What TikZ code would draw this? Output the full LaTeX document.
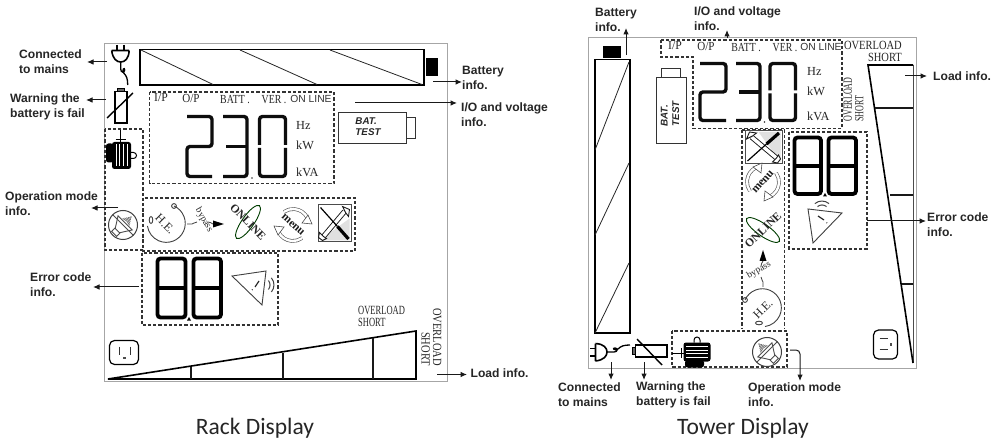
\documentclass[tikz,border=0pt]{standalone}
\usepackage{fontspec}
\setmainfont{Liberation Sans}
\newfontfamily\lserif{Liberation Serif}
\newfontfamily\capfont{Carlito}
\usetikzlibrary{arrows.meta,shapes.geometric,calc}
\tikzset{
  panel/.style={draw=black!35,line width=.9pt},
  dbox/.style={draw=black!80,line width=1.1pt,dash pattern=on 3.2pt off 2pt},
  arr/.style={-{Latex[length=6.5pt,width=5.5pt]},line width=1pt,draw=black!90},
  lab/.style={font=\fontsize{12.1}{15}\selectfont\bfseries,align=left,anchor=west,inner sep=0pt,text=black!85},
  captext/.style={font=\capfont\fontsize{23.5}{25}\selectfont,inner sep=0pt,text=black!85},
  lcd/.style={font=\lserif\fontsize{12.3}{12}\selectfont,inner sep=0pt,text=black!85},
  lcdsf/.style={font=\fontsize{10.3}{10}\selectfont,inner sep=0pt,text=black!80},
  ovfont/.style={font=\lserif\fontsize{12.5}{11.5}\selectfont},
  bttext/.style={font=\bfseries\itshape\fontsize{9.8}{11.5}\selectfont,align=left,inner sep=0pt,text=black!85},
  batbox/.style={draw=black!80,line width=.8pt},
  batt/.style={draw=black,line width=1.5pt},
  hatch/.style={draw=black!85,line width=.8pt},
  seg/.style={draw=black!95,line width=3.4pt,rounded corners=3pt},
  segb/.style={draw=black,line width=3.8pt,rounded corners=3pt},
  wedgeline/.style={draw=black,line width=1.6pt,line join=miter},
  tickline/.style={draw=black!90,line width=1.3pt},
}
% seven-segment figures: x0 y0 x1 y1
\newcommand{\digA}[4]{\draw[seg] (#1,#2)--(#3,#2)--(#3,{(#2+#4)/2})--(#1,{(#2+#4)/2})--(#1,#4)--(#3,#4);}
\newcommand{\digB}[4]{\draw[seg] (#1,#2)--(#3,#2)--(#3,#4)--(#1,#4); \draw[seg] ({#1+3},{(#2+#4)/2})--(#3,{(#2+#4)/2});}
\newcommand{\digC}[4]{\draw[seg] (#1,{(#2+#4)/2-1.5})--(#1,#2)--(#3,#2)--(#3,{(#2+#4)/2-1.5}); \draw[seg] (#1,{(#2+#4)/2+1.5})--(#1,#4)--(#3,#4)--(#3,{(#2+#4)/2+1.5});}
\newcommand{\digD}[4]{\draw[segb] (#1,#2) rectangle (#3,#4); \draw[segb] (#1,{(#2+#4)/2})--(#3,{(#2+#4)/2});}
\newcommand{\plugicon}[3]{\begin{scope}[shift={(#1,#2)},rotate=#3]
  \draw[black,line width=1.6pt] (-4,-17)--(-4,-11.5) (3.5,-17)--(3.5,-11.5);
  \draw[black,line width=1.6pt] (-9,-11.5)--(8.5,-11.5) (-9,-11.5) .. controls (-8,-3) and (-4,0) .. (0,0) .. controls (4,0) and (8,-3) .. (8.5,-11.5);
  \draw[black,line width=1.3pt] (0,0)--(0,7) .. controls (0,11) and (4,11) .. (4,8) .. controls (4,5) and (1,7) .. (3,11) .. controls (6,14) and (7,17) .. (7,23);
\end{scope}}
\newcommand{\batfail}[3]{\begin{scope}[shift={(#1,#2)},rotate=#3]
  \draw[black,line width=1.3pt] (-6,-15.5) rectangle (6,16);
  \draw[black,fill=black!60,line width=.8pt] (-3.5,-18.5) rectangle (3.5,-15.5);
  \draw[black,line width=1.4pt] (-14,11)--(12,-14);
\end{scope}}
\newcommand{\motoricon}[3]{\begin{scope}[shift={(#1,#2)},rotate=#3]
  \draw[black,line width=1pt] (-1.5,-25)--(-1.5,-13) (-6,-15.5)--(4,-15.5);
  \fill[black,rounded corners=2.5pt] (-9.5,-13.5) rectangle (9.5,13.5);
  \fill[black,rounded corners=2.5pt] (-15.5,-12) rectangle (-8,7);
  \draw[white,line width=.9pt] (-5.5,-11)--(-5.5,11) (-1.8,-11)--(-1.8,11) (1.9,-11)--(1.9,11) (5.6,-11)--(5.6,11);
  \draw[black,line width=1pt] (9.5,-3)--(12,-3) arc[start angle=90,end angle=-90,radius=3pt]--(9.5,3);
\end{scope}}
\newcommand{\speakicon}[3]{\begin{scope}[shift={(#1,#2)},rotate=#3]
  \draw[black!75,line width=1pt] (0,0) circle[radius=14.5pt];
  \draw[black!70,line width=.8pt] (-10.5,-10.5)--(10.5,10.5);
  \begin{scope}[rotate=45]
    \draw[black!70,line width=.9pt] (-12.5,-3.5) rectangle (-8,3.5) (-8,-3)--(3,-10)--(3,10)--(-8,3);
    \foreach \r in {1,2.5,4,5.5,7}{\draw[black!55,line width=.8pt] ({\r+3.5},{-.7*(8-\r)})--({\r+4.5},0)--({\r+3.5},{.7*(8-\r)});}
  \end{scope}
\end{scope}}
\newcommand{\heicon}[3]{\begin{scope}[shift={(#1,#2)},rotate=#3,transform shape]
  \draw[black!75,line width=.9pt] (8,-18) arc[start angle=66,end angle=-172,radius=19pt];
  \draw[black!75,line width=.9pt] (8,-18) circle[radius=2.4pt];
  \draw[black!75,line width=.9pt] (-15,-4) ellipse[x radius=1.8pt,y radius=3.5pt];
  \node[lcd,font=\lserif\fontsize{12}{12}\selectfont,rotate=-45] (#1he) at (-1,0) {H.E.};
  \draw[black!75,line width=.8pt] (21,0)--(26,0) .. controls (28,0) and (28,-2) .. (31,-2);
  \node[lcd,font=\lserif\fontsize{9.5}{9}\selectfont,rotate=-60] (#1by) at (38,-4) {bypass};
  \draw[black!75,line width=.8pt] (42,-2) .. controls (44,-3) and (45,0) .. (47,0);
  \fill[black] (47,-3.5)--(58,0)--(47,3.5)--cycle;
\end{scope}}
\newcommand{\onlineicon}[3]{\begin{scope}[shift={(#1,#2)},rotate=#3,transform shape]
  \draw[black!60!green!60!black,line width=.9pt,rotate=55] (0,0) ellipse[x radius=20pt,y radius=6pt];
  \node[lcd,text=black!85,rotate=-46,font=\lserif\bfseries\fontsize{11.5}{11}\selectfont] (#1on) at (0,0) {ON\kern.5pt LINE};
\end{scope}}
\newcommand{\menuicon}[3]{\begin{scope}[shift={(#1,#2)},rotate=#3,transform shape]
  \draw[draw=black!70,double=white,double distance=2.4pt,line width=.6pt] (14.5,-7) arc[start angle=26,end angle=125,radius=16pt];
  \draw[draw=black!70,double=white,double distance=2.4pt,line width=.6pt] (-14.5,7) arc[start angle=206,end angle=305,radius=16pt];
  \draw[fill=white,draw=black!70,line width=.6pt] (15,-10)--(19,-1)--(9,-2)--cycle (-15,10)--(-19,1)--(-9,2)--cycle;
  \node[lcd,text=black!90,rotate=-42,font=\lserif\bfseries\fontsize{11.5}{10}\selectfont] (#1me) at (0,0) {menu};
\end{scope}}
\newcommand{\toolicon}[3]{\begin{scope}[shift={(#1,#2)},rotate=#3]
  \fill[black!12] (-15,17)--(15,17)--(15,-5)--cycle;
  \draw[black!70,line width=1pt] (-16.5,-18.5) rectangle (16.5,18.5);
  \draw[black!90,line width=5.2pt] (-11,13)--(10,-12);
  \draw[white,line width=3.4pt] (-11,13)--(10,-12);
  \fill[white,draw=black!90,line width=.9pt] (8,-17)--(15,-14)--(14,-7)--(11,-11)--cycle (-15,9)--(-11,13)--(-8,15)--(-12,17)--(-16,14)--cycle;
  \draw[black,line width=1.2pt] (-14,-16)--(3,3);
  \draw[black,line width=3.2pt] (3,3)--(14,15.5);
\end{scope}}
\newcommand{\alarmicon}[3]{\begin{scope}[shift={(#1,#2)},rotate=#3]
  \draw[black!75,line width=.9pt,line join=miter] (-21,-8)--(13,-13)--(9,21)--cycle;
  \draw[black!85,line width=1.1pt] (-1,6)--(-.5,5.5);
  \draw[black!85,line width=1.2pt] (2,3)--(6,-3);
  \draw[black!75,line width=1pt] (15.4,5.5) arc[start angle=-40,end angle=40,radius=7pt];
  \draw[black!75,line width=1pt] (18.4,8) arc[start angle=-40,end angle=40,radius=11pt];
\end{scope}}
\newcommand{\outleticon}[3]{\begin{scope}[shift={(#1,#2)},rotate=#3]
  \draw[black,line width=1.2pt,rounded corners=5pt] (-14.5,-12) rectangle (14.5,12);
  \draw[black!80,line width=.9pt] (-5,-6)--(-5,2) (6,-6)--(6,2);
  \fill[black!70] (-1,4) rectangle (1.5,6.5);
\end{scope}}
\newcommand{\cs}[2]{\scalebox{#1}[1]{#2}}
\begin{document}
\begin{tikzpicture}[x=1pt,y=-1pt]
\useasboundingbox (0,0) rectangle (1003,443);
\fill[white] (0,0) rectangle (1003,443);
% ---------- RACK ----------
\draw[panel] (104.5,43) rectangle (447.5,381.5);
\draw[batt] (140,49.5) rectangle (424,85);
\fill[black] (425.5,58) rectangle (438,76);
\draw[hatch] (141,50)--(213,84.5) (240,50)--(317,84.5) (330,50)--(422,84.5);
\plugicon{120.7}{62}{0}
\batfail{121}{107}{0}
\motoricon{121.5}{155.5}{0}
\speakicon{123}{225}{0}
\draw[dbox] (149.5,92) rectangle (334,183.5);
\node[lcd] (ip) at (161,98) {\cs{.95}{I/P}};
\node[lcd] (op) at (191,98) {\cs{.9}{O/P}};
\node[lcd] (ba) at (235,100) {\cs{.8}{BATT .}};
\node[lcd] (ve) at (274,100) {\cs{.8}{VER .}};
\node[lcdsf] (ol) at (311,99) {ON LINE};
\digA{187}{116.5}{212}{176.5}
\digB{223}{116.5}{247}{176.5}
\digC{259.5}{116.5}{285.5}{176.5}
\fill[black!80] (252,178) circle[radius=.9pt];
\node[lcd,anchor=west] (hz) at (296,125) {Hz};
\node[lcd,anchor=west] (kw) at (296,145.5) {kW};
\node[lcd,anchor=west] (kv) at (296,172) {kVA};
\draw[batbox] (338,112) rectangle (406.5,143);
\draw[batbox] (406.5,117.5) rectangle (415,138);
\node[bttext] (bt) at (368,126.5) {BAT.\\TEST};
\draw[dbox] (105,129) rectangle (143,250);
\draw[dbox] (143,198) rectangle (355,251);
\heicon{166}{224}{0}
\onlineicon{248}{222}{0}
\menuicon{293}{225}{0}
\toolicon{334.5}{223.5}{0}
\draw[dbox] (142,253) rectangle (278,325);
\digD{157.5}{258.5}{185.5}{317.5}
\digD{193.5}{258.5}{221}{317.5}
\fill[black] (187,320.5)--(191,320.5)--(189,317)--cycle;
\alarmicon{253}{284}{0}
\outleticon{124}{352.5}{0}
\draw[wedgeline] (108,379)--(416,331)--(416,379)--cycle;
\draw[tickline] (191,367)--(191,379) (283,352.5)--(283,379) (373,338)--(373,379);
\node[lcd,align=left,anchor=west,ovfont] (ovl) at (358,316.5) {\cs{.68}{OVERLOAD}\\\cs{.68}{SHORT}};
\node[lcd,align=right,rotate=-90,ovfont] (ovr) at (431.5,337) {\cs{.84}{OVERLOAD}\\\cs{.84}{SHORT}};
% labels
\node[lab] (lc) at (19,61.5) {Connected\\to mains};
\node[lab] (lw) at (10,107) {Warning the\\battery is fail};
\node[lab] (lo) at (5,204) {Operation mode\\info.};
\node[lab] (le) at (30,284.5) {Error code\\info.};
\node[lab] (lb) at (462,77.5) {Battery\\info.};
\node[lab] (li) at (461,115) {I/O and voltage\\info.};
\node[lab] (ll) at (470.5,373.5) {Load info.};
\coordinate (a1) at (107,62); \coordinate (a1e) at (87,62);
\coordinate (a2) at (106,100); \coordinate (a2e) at (86,100);
\coordinate (a3) at (118,208); \coordinate (a3e) at (91,208);
\coordinate (a4) at (139,287); \coordinate (a4e) at (93,287);
\coordinate (a5) at (433,82); \coordinate (a6) at (355,103); \coordinate (a6e) at (457,103);
\coordinate (a7) at (437,374.5); \coordinate (a7e) at (467,374.5);
\draw[arr] (a1)--(a1e);
\draw[arr] (a2)--(a2e);
\draw[arr] (a3)--(a3e);
\draw[arr] (a4)--(a4e);
\draw[arr] (a5)--(lb.west |- a5);
\draw[arr] (a6)--(a6e);
\draw[arr] (a7)--(a7e);
\node[captext] (c1) at (255,428) {Rack Display};
% ---------- TOWER ----------
\draw[panel] (588,37) rectangle (916,368);
\draw[batt] (595,59.5) rectangle (630,333);
\fill[black] (603,46) rectangle (621,58);
\draw[hatch] (629,62)--(595,150) (629,163)--(595,235) (629,263)--(595,333);
\plugicon{607}{352}{90}
\batfail{651}{351}{90}
\draw[dbox] (661,40)--(842,40)--(842,128.5)--(693,128.5)--(693,57)--(661,57)--cycle;
\node[lcd] (ip2) at (675,46) {\cs{.95}{I/P}};
\node[lcd] (op2) at (706,46) {\cs{.9}{O/P}};
\node[lcd] (ba2) at (746,47.5) {\cs{.8}{BATT .}};
\node[lcd] (ve2) at (785,47.5) {\cs{.8}{VER .}};
\node[lcdsf] (ol2) at (821,47) {ON LINE};
\digA{700}{63.5}{726}{120.5}
\digB{736}{63.5}{760}{120.5}
\digC{770}{63.5}{795.5}{120.5}
\fill[black!80] (764.5,122) circle[radius=.9pt];
\node[lcd,anchor=west] (hz2) at (807,71) {Hz};
\node[lcd,anchor=west] (kw2) at (807,91) {kW};
\node[lcd,anchor=west] (kv2) at (807,116) {kVA};
\node[lcd,align=right,anchor=east,ovfont] (ov2) at (902,51.5) {\cs{.84}{OVERLOAD}\\\cs{.84}{SHORT}};
\node[lcd,align=left,rotate=90,ovfont] (ov3) at (853.5,99.5) {\cs{.64}{OVERLOAD}\\\cs{.64}{SHORT}};
\draw[batbox] (656,77) rectangle (686,143);
\draw[batbox] (661,68) rectangle (680,77);
\node[bttext,rotate=90] (bt2) at (670,114) {BAT.\\TEST};
\draw[dbox] (742,130)--(742,328.5) (784.5,130)--(784.5,328.5) (742,130)--(784.5,130);
\toolicon{763.5}{147}{90}
\menuicon{763}{182}{90}
\onlineicon{763}{230}{90}
\heicon{763}{308}{90}
\draw[dbox] (672,331) rectangle (787,367);
\motoricon{697}{352}{90}
\speakicon{767}{352}{90}
\draw[dbox] (789,132) rectangle (867,249);
\digD{794.5}{137.5}{821}{194}
\digD{828.5}{137.5}{856}{194}
\fill[black] (823,196.5)--(827,196.5)--(825,193)--cycle;
\alarmicon{821}{222}{90}
\draw[black!70,line width=.9pt] (913,65)--(913,363);
\draw[wedgeline] (913,65)--(868,65)--(913,363);
\draw[tickline] (875,108)--(913,108) (890,195)--(913,195) (902,284)--(913,284);
\outleticon{885.5}{344.5}{90}
% labels
\node[lab] (tb) at (595,19.5) {Battery\\info.};
\node[lab] (ti) at (694,19) {I/O and voltage\\info.};
\node[lab] (tl) at (933,76) {Load info.};
\node[lab] (te) at (927,224.5) {Error code\\info.};
\node[lab] (tc) at (558,394.5) {Connected\\to mains};
\node[lab] (tw) at (636,394.5) {Warning the\\battery is fail};
\node[lab] (tm) at (748,394.5) {Operation mode\\info.};
\coordinate (b1) at (626,55); \coordinate (b1e) at (626,28);
\coordinate (b2) at (727,38); \coordinate (b2e) at (727,30);
\coordinate (b3) at (905,76); \coordinate (b3e) at (927,76);
\coordinate (b4) at (867,221); \coordinate (b4e) at (926,221);
\coordinate (b5) at (611,362); \coordinate (b5e) at (611,380);
\coordinate (b6) at (644,362); \coordinate (b6e) at (644,380);
\coordinate (b7) at (790,350); \coordinate (b7e) at (800,381);
\draw[arr] (b1)--(b1e);
\draw[arr] (b2)--(b2e);
\draw[arr] (b3)--(b3e);
\draw[arr] (b4)--(b4e);
\draw[arr] (b5)--(b5e);
\draw[arr] (b6)--(b6e);
\draw[arr,rounded corners=4pt] (b7)--(b7e |- b7)--(b7e);
\node[captext] (c2) at (743,428) {Tower Display};
\end{tikzpicture}
\end{document}
